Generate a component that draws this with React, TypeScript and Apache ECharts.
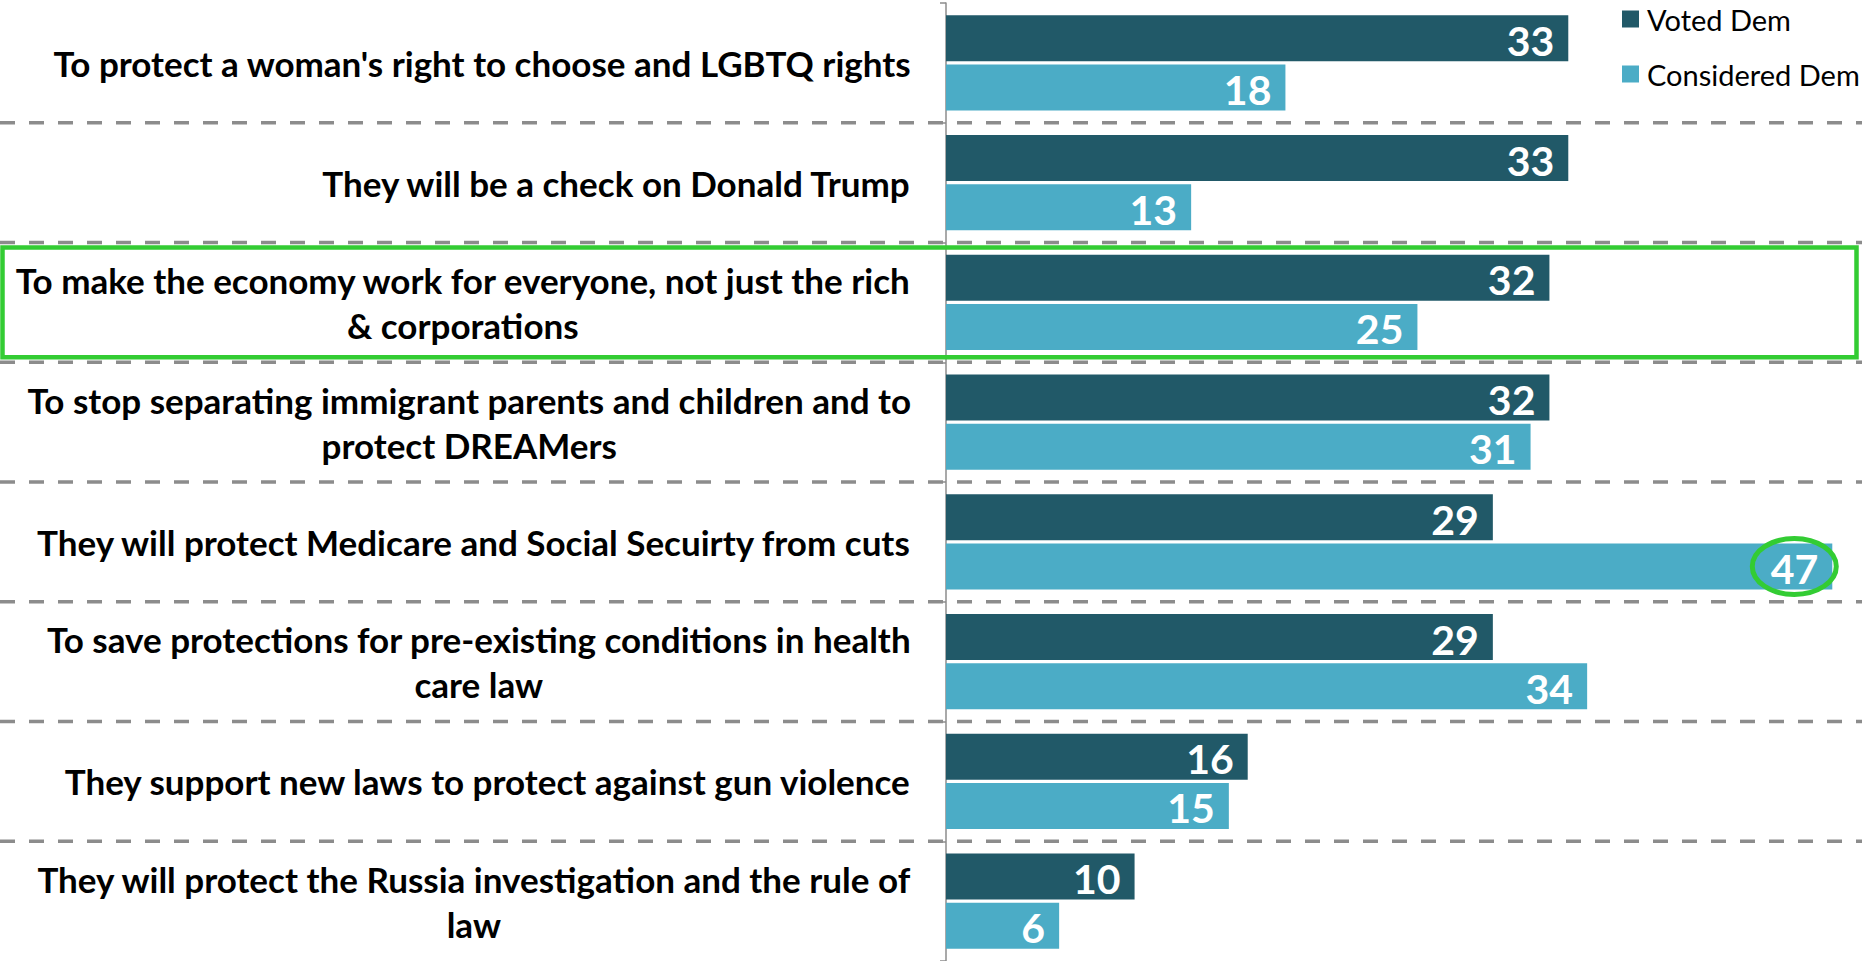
import React, { useEffect, useRef } from "react";
import * as echarts from "echarts";

const categories: string[] = [
  "To protect a woman's right to choose and LGBTQ rights",
  "They will be a check on Donald Trump",
  "To make the economy work for everyone, not just the rich\n& corporations",
  "To stop separating immigrant parents and children and to\nprotect DREAMers",
  "They will protect Medicare and Social Secuirty from cuts",
  "To save protections for pre-existing conditions in health\ncare law",
  "They support new laws to protect against gun violence",
  "They will protect the Russia investigation and the rule of\nlaw",
];
const votedDem: number[] = [33, 33, 32, 32, 29, 29, 16, 10];
const consideredDem: number[] = [18, 13, 25, 31, 47, 34, 15, 6];
const seriesNames: string[] = ["Voted Dem", "Considered Dem"];
const highlightedCategory = 2;
const circledCategory = 4;

const DARK = "#215968";
const LIGHT = "#4BACC6";
const GREEN = "#33CC33";
const FONT = "Lato, 'Open Sans', sans-serif";

export default function App() {
  const ref = useRef<HTMLDivElement>(null);

  useEffect(() => {
    if (!ref.current) return;
    const chart = echarts.init(ref.current, null, { renderer: "svg" });
    const barWidth = 46;
    const labelCommon = {
      show: true,
      position: "insideRight",
      distance: 14,
      color: "#fff",
      fontFamily: FONT,
      fontWeight: "bold",
      fontSize: 41,
      offset: [0, 2],
    };
    chart.setOption({
      animation: false,
      backgroundColor: "#fff",
      textStyle: { fontFamily: FONT },
      legend: {
        orient: "vertical",
        left: 1617,
        top: -3,
        icon: "rect",
        itemWidth: 17,
        itemHeight: 17,
        itemGap: 21,
        data: seriesNames,
        textStyle: {
          fontFamily: FONT,
          fontSize: 29,
          color: "#000",
          lineHeight: 34,
          padding: [0, 0, 0, 3],
        },
      },
      grid: { left: 946, top: 3, width: 924, height: 961 },
      xAxis: {
        type: "value",
        min: 0,
        max: 49,
        show: false,
      },
      yAxis: {
        type: "category",
        inverse: true,
        data: categories,
        axisLine: { show: true, lineStyle: { color: "#8c8c8c", width: 1.5 } },
        axisTick: { show: true, length: 6, lineStyle: { color: "#8c8c8c", width: 1.5 } },
        splitLine: { show: false },
        axisLabel: {
          margin: 35,
          align: "right",
          formatter: (v: string) =>
            v
              .split("\n")
              .map((l) => `{c|${l}}`)
              .join("\n"),
          rich: {
            c: {
              align: "center",
              fontFamily: FONT,
              fontWeight: "bold",
              fontSize: 35,
              lineHeight: 45,
              color: "#000",
            },
          },
        },
      },
      series: [
        {
          name: seriesNames[0],
          type: "bar",
          data: votedDem,
          barWidth,
          barGap: "7%",
          itemStyle: { color: DARK },
          label: labelCommon,
          z: 3,
        },
        {
          name: seriesNames[1],
          type: "bar",
          data: consideredDem,
          barWidth,
          barGap: "7%",
          itemStyle: { color: LIGHT },
          label: labelCommon,
          z: 3,
        },
      ],
    });

    const c0 = chart.convertToPixel({ yAxisIndex: 0 }, categories[0]) as number;
    const c1 = chart.convertToPixel({ yAxisIndex: 0 }, categories[1]) as number;
    const band = c1 - c0;
    const graphics: any[] = [];
    for (let i = 1; i < categories.length; i++) {
      const y = c0 + band * (i - 0.5);
      graphics.push({
        type: "line",
        z: 0,
        shape: { x1: 0, y1: y, x2: 1862, y2: y },
        style: { stroke: "#8c8c8c", lineWidth: 3.5, lineDash: [15, 14] },
      });
    }
    const hc = chart.convertToPixel({ yAxisIndex: 0 }, categories[highlightedCategory]) as number;
    graphics.push({
      type: "rect",
      z: 10,
      shape: { x: 2.5, y: hc - band / 2 + 5, width: 1854, height: band - 10 },
      style: { fill: "none", stroke: GREEN, lineWidth: 4.5 },
    });
    const cc = chart.convertToPixel({ yAxisIndex: 0 }, categories[circledCategory]) as number;
    const cx = chart.convertToPixel({ xAxisIndex: 0 }, consideredDem[circledCategory]) as number;
    graphics.push({
      type: "ellipse",
      z: 10,
      shape: { cx: cx - 38, cy: cc + (barWidth * 1.07) / 2, rx: 42, ry: 28 },
      style: { fill: "none", stroke: GREEN, lineWidth: 5 },
    });
    chart.setOption({ graphic: graphics });

    return () => chart.dispose();
  }, []);

  return (
    <div
      ref={ref}
      style={{ position: "fixed", left: 0, top: 0, width: 1874, height: 961, background: "#fff" }}
    />
  );
}
